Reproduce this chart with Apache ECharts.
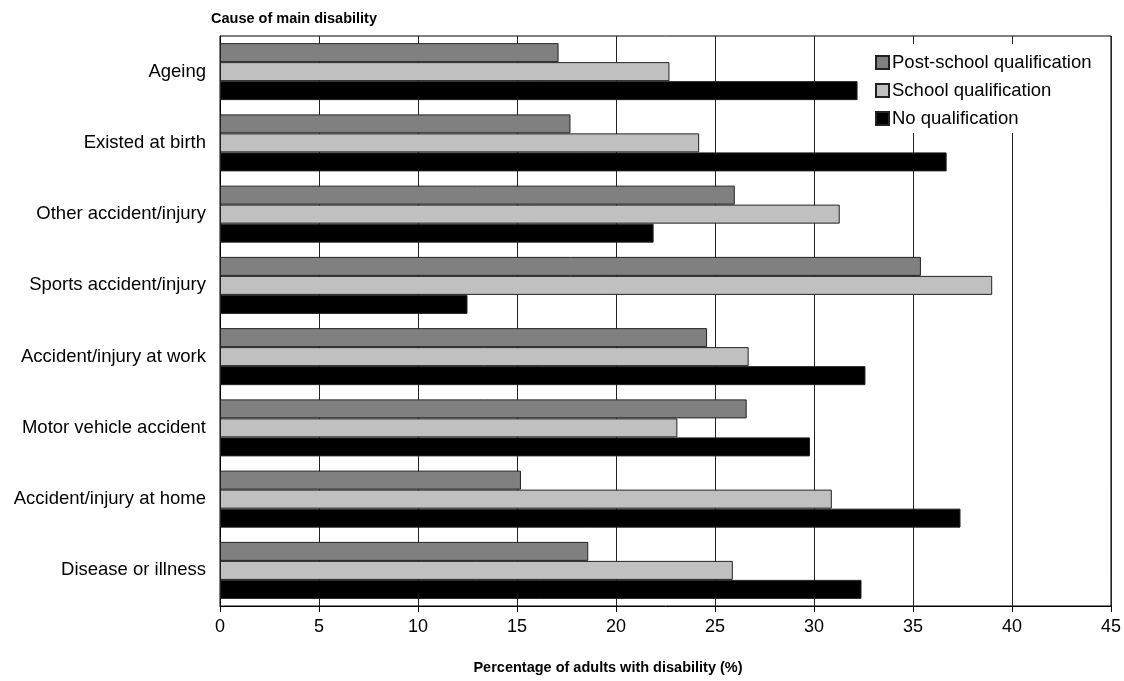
<!DOCTYPE html>
<html>
<head>
<meta charset="utf-8">
<script src="https://cdn.jsdelivr.net/npm/echarts@6/dist/echarts.min.js"></script>
<style>html,body{margin:0;padding:0;background:#fff}#c{width:1124px;height:681px}</style>
</head>
<body>
<div id="c"></div>
<script>
const categories = ['Ageing','Existed at birth','Other accident/injury','Sports accident/injury','Accident/injury at work','Motor vehicle accident','Accident/injury at home','Disease or illness'];
const postSchool = [17.1, 17.7, 26.0, 35.4, 24.6, 26.6, 15.2, 18.6];
const school = [22.7, 24.2, 31.3, 39.0, 26.7, 23.1, 30.9, 25.9];
const noQual = [32.2, 36.7, 21.9, 12.5, 32.6, 29.8, 37.4, 32.4];
const seriesNames = ['Post-school qualification','School qualification','No qualification'];
const xTicks = [0,5,10,15,20,25,30,35,40,45];

const font = 'Arial, "Liberation Sans", sans-serif';
const chart = echarts.init(document.getElementById('c'));
const colors = ['#808080','#c0c0c0','#000000'];
const values = [postSchool, school, noQual];
chart.setOption({
  animation: false,
  backgroundColor: '#fff',
  title: {
    text: 'Cause of main disability',
    left: 211, top: 11, padding: 0,
    textStyle: {fontFamily: font, fontWeight: 'bold', fontSize: 14.5, color: '#000'}
  },
  legend: {
    orient: 'vertical',
    left: 867, top: 44,
    padding: [9, 8, 5, 8],
    backgroundColor: '#fff',
    itemGap: 9,
    itemWidth: 13, itemHeight: 13,
    icon: 'rect',
    data: seriesNames,
    textStyle: {fontFamily: font, fontSize: 18.5, color: '#000', padding: [0,0,0,-2]}
  },
  grid: {left: 220, right: 12, top: 36, bottom: 75, show: true, borderColor: '#000', borderWidth: 1, containLabel: false},
  xAxis: {
    type: 'value', min: xTicks[0], max: xTicks[xTicks.length-1], interval: 5,
    axisLine: {show: true, lineStyle: {color: '#000'}},
    axisTick: {show: true, length: 6, lineStyle: {color: '#000'}},
    splitLine: {show: true, lineStyle: {color: '#222', width: 1}},
    axisLabel: {fontFamily: font, fontSize: 18, color: '#000', margin: 12}
  },
  yAxis: {
    type: 'category', data: categories, inverse: true,
    axisLine: {show: true, lineStyle: {color: '#000'}},
    axisTick: {show: false},
    axisLabel: {fontFamily: font, fontSize: 18.5, color: '#000', margin: 14}
  },
  graphic: [{
    type: 'text', x: 608, y: 668,
    style: {text: 'Percentage of adults with disability (%)', font: 'bold 14.5px ' + font, fill: '#000', align: 'center', verticalAlign: 'middle'}
  }],
  series: seriesNames.map((n, i) => ({
    name: n, type: 'bar', data: values[i],
    barWidth: 19, barGap: '0%',
    itemStyle: {color: colors[i], borderColor: '#222', borderWidth: 1}
  }))
});
</script>
</body>
</html>
